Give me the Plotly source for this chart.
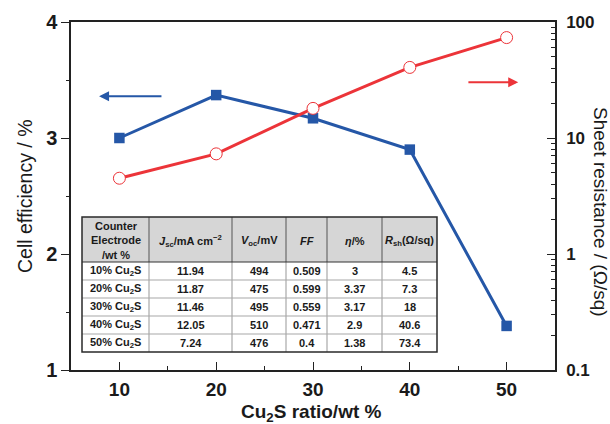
import plotly.graph_objects as go

ratio = [10, 20, 30, 40, 50]
efficiency = [3.0, 3.37, 3.17, 2.9, 1.38]
sheet_res = [4.5, 7.3, 18, 40.6, 73.4]

tbl_header = ["Counter<br>Electrode<br>/wt %",
              "<i>J</i><sub>sc</sub>/mA cm<sup>−2</sup>",
              "<i>V</i><sub>oc</sub>/mV",
              "<i>FF</i>",
              "<i>η</i>/%",
              "<i>R</i><sub>sh</sub>(Ω/sq)"]
tbl_electrode = ["10% Cu<sub>2</sub>S", "20% Cu<sub>2</sub>S", "30% Cu<sub>2</sub>S",
                 "40% Cu<sub>2</sub>S", "50% Cu<sub>2</sub>S"]
tbl_jsc = ["11.94", "11.87", "11.46", "12.05", "7.24"]
tbl_voc = ["494", "475", "495", "510", "476"]
tbl_ff = ["0.509", "0.599", "0.559", "0.471", "0.4"]
tbl_eta = ["3", "3.37", "3.17", "2.9", "1.38"]
tbl_rsh = ["4.5", "7.3", "18", "40.6", "73.4"]

BLUE = "#2557a7"
RED = "#ec3439"
INK = "#1a1a1a"
FONT = "Liberation Sans, Arial, sans-serif"

# plot-area geometry in pixels (used to place the table in paper coords)
PL, PR, PT, PB = 71, 555, 22, 370
def px(xp):
    return (xp - PL) / (PR - PL)
def py(yp):
    return (PB - yp) / (PB - PT)

fig = go.Figure()

fig.add_trace(go.Scatter(
    x=ratio, y=efficiency, mode="lines+markers",
    line=dict(color=BLUE, width=3),
    marker=dict(symbol="square", size=10.5, color=BLUE),
    yaxis="y", showlegend=False))

fig.add_trace(go.Scatter(
    x=ratio, y=sheet_res, mode="lines+markers",
    line=dict(color=RED, width=3),
    marker=dict(symbol="circle", size=12, color="white",
                line=dict(color=RED, width=1)),
    yaxis="y2", showlegend=False))

# ---- table (shapes + annotations) ----
col_w = [67, 83, 54, 41, 55, 55]
tx0, ty0 = 82, 217
head_h, row_h = 45, 18
edges = [tx0]
for w in col_w:
    edges.append(edges[-1] + w)
columns = [tbl_electrode, tbl_jsc, tbl_voc, tbl_ff, tbl_eta, tbl_rsh]
nrows = len(tbl_electrode)
ty_end = ty0 + head_h + nrows * row_h
shapes = []
shapes.append(dict(type="rect", xref="paper", yref="paper",
                   x0=px(edges[0]), x1=px(edges[-1]), y0=py(ty0), y1=py(ty0 + head_h),
                   fillcolor="#d6d6d6", line=dict(width=0), layer="below"))
shapes.append(dict(type="rect", xref="paper", yref="paper",
                   x0=px(edges[0]), x1=px(edges[-1]), y0=py(ty0 + head_h), y1=py(ty_end),
                   fillcolor="white", line=dict(width=0), layer="below"))
for r in range(1, nrows):
    yy = ty0 + head_h + r * row_h
    shapes.append(dict(type="line", xref="paper", yref="paper",
                       x0=px(edges[0]), x1=px(edges[-1]), y0=py(yy), y1=py(yy),
                       line=dict(color="#a8a8a8", width=1.2)))
for e in edges[1:-1]:
    shapes.append(dict(type="line", xref="paper", yref="paper",
                       x0=px(e), x1=px(e), y0=py(ty0), y1=py(ty0 + head_h),
                       line=dict(color="#555555", width=1)))
    shapes.append(dict(type="line", xref="paper", yref="paper",
                       x0=px(e), x1=px(e), y0=py(ty0 + head_h), y1=py(ty_end),
                       line=dict(color="#a8a8a8", width=1.2)))
shapes.append(dict(type="line", xref="paper", yref="paper",
                   x0=px(edges[0]), x1=px(edges[-1]), y0=py(ty0 + head_h), y1=py(ty0 + head_h),
                   line=dict(color="#333333", width=1.2)))
shapes.append(dict(type="rect", xref="paper", yref="paper",
                   x0=px(edges[0]), x1=px(edges[-1]), y0=py(ty0), y1=py(ty_end),
                   line=dict(color="#2a2a2a", width=1.5)))

annotations = []
for c, h in enumerate(tbl_header):
    xc = (edges[c] + edges[c + 1]) / 2
    annotations.append(dict(x=px(xc), y=py(ty0 + head_h / 2 + 1), xref="paper", yref="paper",
                            text="<b>" + h + "</b>", showarrow=False,
                            xanchor="center", yanchor="middle", align="center",
                            font=dict(family=FONT, size=11, color=INK)))
for c, col in enumerate(columns):
    xc = (edges[c] + edges[c + 1]) / 2
    for r, v in enumerate(col):
        yc = ty0 + head_h + (r + 0.5) * row_h
        annotations.append(dict(x=px(xc), y=py(yc), xref="paper", yref="paper",
                                text="<b>" + v + "</b>", showarrow=False,
                                xanchor="center", yanchor="middle",
                                font=dict(family=FONT, size=11, color=INK)))

# direction arrows
annotations.append(dict(x=7.9, y=3.36, ax=14.5, ay=3.36, xref="x", yref="y",
                        axref="x", ayref="y", text="", showarrow=True,
                        arrowhead=2, arrowsize=1, arrowwidth=2, arrowcolor=BLUE))
annotations.append(dict(x=51.2, y=3.48, ax=45.9, ay=3.48, xref="x", yref="y",
                        axref="x", ayref="y", text="", showarrow=True,
                        arrowhead=2, arrowsize=1, arrowwidth=2, arrowcolor=RED))
# axis titles
annotations.append(dict(x=px(600), y=py(212), xref="paper", yref="paper",
                        xanchor="center", yanchor="middle",
                        text="Sheet resistance / (Ω/sq)", textangle=90,
                        showarrow=False, font=dict(family=FONT, size=19, color=INK)))
annotations.append(dict(x=px(311), y=py(413), xref="paper", yref="paper",
                        xanchor="center", yanchor="middle",
                        text="<b>Cu<sub>2</sub>S ratio/wt %</b>",
                        showarrow=False, font=dict(family=FONT, size=19, color=INK)))
annotations.append(dict(x=px(25), y=py(196), xref="paper", yref="paper",
                        xanchor="center", yanchor="middle",
                        text="Cell efficiency / %", textangle=-90,
                        showarrow=False, font=dict(family=FONT, size=19.5, color=INK)))

fig.update_layout(
    width=610, height=424,
    margin=dict(l=PL, r=610 - PR, t=PT, b=424 - PB, autoexpand=False),
    paper_bgcolor="white", plot_bgcolor="white",
    font=dict(family=FONT, color=INK),
    shapes=shapes, annotations=annotations,
    xaxis=dict(range=[5, 55], tickvals=[10, 20, 30, 40, 50], automargin=False,
               ticks="inside", ticklen=8, tickwidth=1.2, tickcolor="#222",
               minor=dict(dtick=5, tick0=0, ticks="inside", ticklen=4, tickcolor="#222"),
               showline=True, linecolor="#222", linewidth=1.5, mirror=True,
               showgrid=False, zeroline=False,
               tickfont=dict(family=FONT, size=19, weight="bold"),
               ticklabelstandoff=1),
    yaxis=dict(range=[1, 4], tickvals=[1, 2, 3, 4], automargin=False,
               ticks="outside", ticklen=8, tickwidth=1.2, tickcolor="#222",
               minor=dict(dtick=0.5, tick0=0, ticks="outside", ticklen=3, tickcolor="#222"),
               showline=True, linecolor="#222", linewidth=1.5,
               showgrid=False, zeroline=False,
               tickfont=dict(family=FONT, size=20, weight="bold")),
    yaxis2=dict(type="log", range=[-1, 2], overlaying="y", side="right", automargin=False,
                tickvals=[0.1, 1, 10, 100], ticktext=["0.1", "1", "10", "100"],
                ticks="inside", ticklen=8, tickwidth=1.2, tickcolor="#222",
                minor=dict(dtick="D1", ticks="inside", ticklen=4, tickcolor="#222"),
                showline=True, linecolor="#222", linewidth=1.5,
                showgrid=False, zeroline=False,
                tickfont=dict(family=FONT, size=17, weight="bold"),
                ticklabelstandoff=6),
)

fig.write_html("out.html")
